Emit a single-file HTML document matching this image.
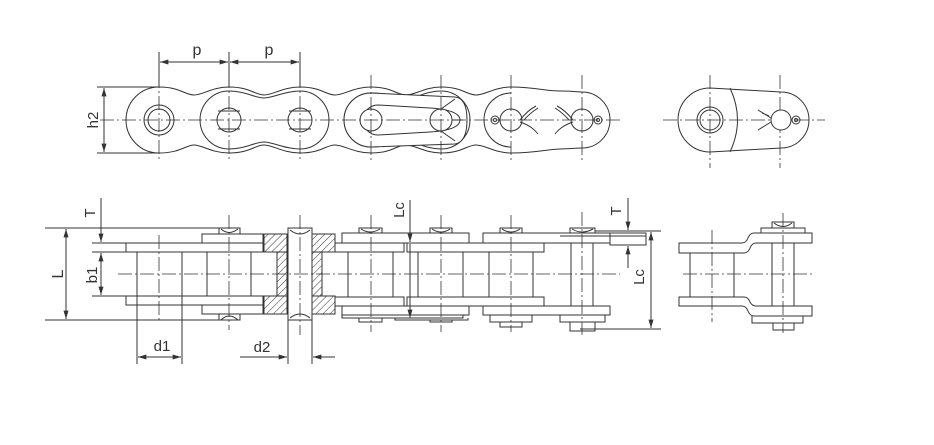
<!DOCTYPE html>
<html><head><meta charset="utf-8"><style>
html,body{margin:0;padding:0;background:#fff;}
svg{display:block;}
text{font-family:"Liberation Sans",sans-serif;fill:#333;}
</style></head><body>
<svg width="934" height="445" viewBox="0 0 934 445" xmlns="http://www.w3.org/2000/svg">
<defs>
<marker id="a" viewBox="0 0 10 6" refX="10" refY="3" markerWidth="9" markerHeight="5" orient="auto-start-reverse" markerUnits="userSpaceOnUse"><path d="M0,0 L10,3 L0,6 Z" fill="#333"/></marker>
<pattern id="h" width="5" height="5" patternUnits="userSpaceOnUse" patternTransform="rotate(45)"><rect width="5" height="5" fill="#fff"/><line x1="0" y1="0" x2="0" y2="5" stroke="#333" stroke-width="1"/></pattern>
</defs>
<g fill="none" stroke="#333" stroke-width="1">
<!-- ============ TOP VIEW ============ -->
<!-- continuous outer outline -->
<path fill="#fff" d="M126,120 A33,33 0 0 1 159,87
 C180,87 185,95 194,95 S212,87 229,87
 C250,87 255,95 264,95 S283,87 300,87
 C321,87 326,95 335,95 S354,87 371,87
 C392,87 397,95 406,95 S425,87 441,87
 C462,87 467,95 476,95 S495,87 511,87
 C535,87 545,91 560,91 S575,92 582,92
 A28,28 0 0 1 582,148
 C575,148 570,149 560,149 S535,153 511,153
 C495,153 485,145 476,145 S462,153 441,153
 C425,153 415,145 406,145 S392,153 371,153
 C354,153 344,145 335,145 S321,153 300,153
 C283,153 273,145 264,145 S250,153 229,153
 C212,153 202,145 194,145 S180,153 159,153
 A33,33 0 0 1 126,120 Z"/>
<!-- inner plate outlines -->
<path d="M229,91 C245,91 255,98 264,98 S285,91 300,91 A29,29 0 0 1 300,149 C285,149 273,142 264,142 S245,149 229,149 A29,29 0 0 1 229,91 Z"/>
<path d="M371,93 C390,93 397,99 406,99 S425,91 441,91 A29,29 0 0 1 441,149 C425,149 415,141 406,141 S390,147 371,147 A27,27 0 0 1 371,93 Z"/>
<path d="M511,93 A27,27 0 0 0 511,147"/>
<!-- offset plate -->
<path fill="#fff" d="M371,93 L455,97 Q467,98 467,120 Q467,142 455,144 L371,147 A27,27 0 0 1 371,93 Z"/>
<path d="M378,105 L430,108 Q460,110 460,120 Q460,130 430,132 L378,135 A15,15 0 0 1 378,105 Z"/>
<path d="M441,109 L455,99 M441,131 L455,141 M452,120 L463,120"/>
<!-- pins -->
<circle cx="159" cy="120" r="15"/><circle cx="159" cy="120" r="11"/>
<circle cx="229" cy="120" r="12" fill="#fff"/><path d="M218,111 H240 M218,129 H240"/>
<circle cx="300" cy="120" r="12" fill="#fff"/><path d="M289,111 H311 M289,129 H311"/>
<circle cx="371" cy="120" r="11" fill="#fff"/>
<circle cx="441" cy="120" r="11" fill="#fff"/>
<circle cx="511" cy="120" r="11" fill="#fff"/>
<circle cx="582" cy="120" r="11" fill="#fff"/>
<circle cx="495" cy="120" r="4"/><circle cx="495" cy="120" r="1.5"/>
<circle cx="598" cy="120" r="4"/><circle cx="598" cy="120" r="1.5"/>
<path d="M520,120 Q528,110 536,106 M520,122 Q532,126 538,134 M524,120 Q530,113 538,108"/>
<path d="M573,120 Q565,110 557,106 M573,122 Q561,126 555,134 M569,120 Q563,113 555,108"/>
<!-- centerlines -->
<g stroke-dasharray="14,3,2,3" stroke-width="0.8">
<line x1="100" y1="120" x2="622" y2="120"/>
<line x1="159" y1="52" x2="159" y2="160"/>
<line x1="229" y1="52" x2="229" y2="160"/>
<line x1="300" y1="52" x2="300" y2="160"/>
<line x1="371" y1="75" x2="371" y2="160"/>
<line x1="441" y1="75" x2="441" y2="160"/>
<line x1="511" y1="75" x2="511" y2="160"/>
<line x1="582" y1="75" x2="582" y2="160"/>
<line x1="663" y1="120" x2="825" y2="120"/>
<line x1="710" y1="75" x2="710" y2="168"/>
<line x1="780" y1="75" x2="780" y2="168"/>
</g>
<line x1="159" y1="52" x2="159" y2="87"/><line x1="229" y1="52" x2="229" y2="87"/><line x1="300" y1="52" x2="300" y2="87"/>
<line x1="160" y1="62" x2="228" y2="62" marker-start="url(#a)" marker-end="url(#a)"/>
<line x1="230" y1="62" x2="299" y2="62" marker-start="url(#a)" marker-end="url(#a)"/>
<line x1="97" y1="87" x2="159" y2="87"/><line x1="97" y1="153" x2="159" y2="153"/>
<line x1="104" y1="88" x2="104" y2="152" marker-start="url(#a)" marker-end="url(#a)"/>
<!-- right top view -->
<path d="M710,88 L781,92 A28,28 0 0 1 781,148 L710,152 A32,32 0 0 1 710,88 Z"/>
<path d="M730,88 Q745,120 730,152"/>
<circle cx="710" cy="120" r="13"/><circle cx="710" cy="120" r="10"/>
<circle cx="781" cy="120" r="10" fill="#fff"/>
<circle cx="796" cy="120" r="4"/><circle cx="796" cy="120" r="1.5"/>
<path d="M771,118 L758,110 M771,122 L758,130 M769,116 L762,113"/>

<!-- ============ BOTTOM VIEW ============ -->
<!-- dimension/extension lines -->
<line x1="45" y1="228" x2="232" y2="228"/>
<line x1="45" y1="320" x2="232" y2="320"/>
<line x1="92" y1="243" x2="126" y2="243"/><line x1="92" y1="252" x2="137" y2="252"/>
<line x1="92" y1="296" x2="137" y2="296"/>
<line x1="66" y1="229" x2="66" y2="319" marker-start="url(#a)" marker-end="url(#a)"/>
<line x1="101" y1="198" x2="101" y2="242" marker-end="url(#a)"/>
<line x1="101" y1="253" x2="101" y2="295" marker-start="url(#a)" marker-end="url(#a)"/>
<!-- inner plates -->
<rect x="126" y="243" width="137" height="9" fill="#fff"/>
<rect x="126" y="296" width="137" height="9" fill="#fff"/>
<rect x="335" y="243" width="69" height="9" fill="#fff"/>
<rect x="335" y="297" width="69" height="9" fill="#fff"/>
<rect x="407" y="243" width="137" height="9" fill="#fff"/>
<rect x="407" y="297" width="137" height="9" fill="#fff"/>
<!-- outer plates -->
<rect x="202" y="234" width="61" height="9" fill="#fff"/>
<rect x="202" y="305" width="61" height="9" fill="#fff"/>
<rect x="342" y="233" width="127" height="10" fill="#fff"/>
<rect x="342" y="306" width="127" height="9" fill="#fff"/>
<rect x="483" y="233" width="127" height="10" fill="#fff"/>
<rect x="483" y="306" width="127" height="9" fill="#fff"/>
<rect x="610" y="233" width="36" height="12" fill="#fff"/>
<line x1="560" y1="236" x2="646" y2="236"/>
<path d="M342,315 V318 H463 V315"/>
<path d="M395,318 V320 H468 V318"/>
<!-- rollers -->
<rect x="137" y="252" width="45" height="44"/>
<rect x="207" y="252" width="44" height="44"/>
<rect x="348" y="252" width="45" height="45"/>
<rect x="418" y="252" width="45" height="45"/>
<rect x="489" y="252" width="44" height="45"/>
<!-- pins of connecting link -->
<rect x="571" y="243" width="22" height="63" fill="#fff"/>
<!-- caps -->
<path d="M219,234 V228 H240 V234 M221,229 Q229,236 238,229"/>
<path d="M219,314 V320 H240 V314 M221,320 Q229,312 238,320"/>
<path d="M359,233 V228 H382 V233 M361,229 Q370,235 380,229"/>
<path d="M430,233 V228 H452 V233 M432,229 Q441,235 450,229"/>
<path d="M500,233 V228 H522 V233 M502,229 Q511,235 520,229"/>
<path d="M570,233 V228 H595 V233 M572,229 Q582,235 593,229"/>
<path d="M359,318 V322 H382 V318 M430,320 V322 H452 V320"/>
<path d="M490,315 V322 H532 V315 M500,322 V327 H522 V322"/>
<path d="M560,315 V322 H605 V315 M570,322 V331 H595 V322"/>
<!-- hatched section -->
<rect x="264" y="234" width="23" height="18" fill="url(#h)"/>
<rect x="264" y="296" width="23" height="18" fill="url(#h)"/>
<rect x="277" y="252" width="10" height="44" fill="url(#h)"/>
<rect x="312" y="234" width="23" height="18" fill="url(#h)"/>
<rect x="312" y="296" width="23" height="18" fill="url(#h)"/>
<rect x="312" y="252" width="10" height="44" fill="url(#h)"/>
<rect x="288" y="228" width="24" height="92" fill="#fff"/>
<path d="M290,230 Q300,238 310,230 M290,318 Q300,310 310,318"/>
<!-- Lc middle -->
<line x1="410" y1="200" x2="410" y2="242" marker-end="url(#a)"/>
<line x1="410" y1="244" x2="410" y2="318" marker-end="url(#a)"/>
<!-- right dims -->
<line x1="595" y1="231" x2="661" y2="231"/>
<line x1="612" y1="245" x2="646" y2="245"/>
<line x1="580" y1="329" x2="661" y2="329"/>
<line x1="628" y1="198" x2="628" y2="230" marker-end="url(#a)"/>
<line x1="628" y1="268" x2="628" y2="246" marker-end="url(#a)"/>
<line x1="651" y1="232" x2="651" y2="328" marker-start="url(#a)" marker-end="url(#a)"/>
<!-- d1 d2 -->
<line x1="137" y1="296" x2="137" y2="364"/><line x1="182" y1="296" x2="182" y2="364"/>
<line x1="138" y1="357" x2="181" y2="357" marker-start="url(#a)" marker-end="url(#a)"/>
<line x1="288" y1="320" x2="288" y2="364"/><line x1="312" y1="320" x2="312" y2="364"/>
<line x1="240" y1="357" x2="287" y2="357" marker-end="url(#a)"/>
<line x1="335" y1="357" x2="313" y2="357" marker-end="url(#a)"/>
<!-- right bottom view -->
<path fill="#fff" d="M679,243 H742 Q746,243 748,238 Q750,233 754,233 H812 V243 H756 Q752,243 750,248 Q748,253 744,253 H679 Z"/>
<path fill="#fff" d="M679,297 H744 Q748,297 750,302 Q752,306 756,306 H812 V316 H754 Q750,316 748,311 Q746,306 742,306 H679 Z"/>
<rect x="690" y="253" width="44" height="44"/>
<rect x="772" y="243" width="22" height="63"/>
<path d="M761,233 V228 H805 V233 M772,228 V222 H794 V228 M774,223 Q783,230 792,223"/>
<path d="M752,316 V323 H803 V316 M773,323 V330 H794 V323"/>
<g stroke-dasharray="14,3,2,3" stroke-width="0.8">
<line x1="118" y1="274" x2="620" y2="274"/>
<line x1="159" y1="235" x2="159" y2="320"/>
<line x1="229" y1="215" x2="229" y2="330"/>
<line x1="300" y1="215" x2="300" y2="335"/>
<line x1="371" y1="215" x2="371" y2="332"/>
<line x1="441" y1="215" x2="441" y2="332"/>
<line x1="511" y1="215" x2="511" y2="332"/>
<line x1="582" y1="212" x2="582" y2="335"/>
<line x1="683" y1="274" x2="813" y2="274"/>
<line x1="712" y1="230" x2="712" y2="322"/>
<line x1="783" y1="213" x2="783" y2="333"/>
</g>
</g>
<!-- labels -->
<text x="197" y="55" font-size="16" text-anchor="middle">p</text>
<text x="269" y="55" font-size="16" text-anchor="middle">p</text>
<text transform="translate(98,120) rotate(-90)" font-size="15" text-anchor="middle">h2</text>
<text transform="translate(95,213) rotate(-90)" font-size="15" text-anchor="middle">T</text>
<text transform="translate(63,274) rotate(-90)" font-size="16" text-anchor="middle">L</text>
<text transform="translate(97,275) rotate(-90)" font-size="15" text-anchor="middle">b1</text>
<text x="162" y="351" font-size="15" text-anchor="middle">d1</text>
<text x="262" y="352" font-size="15" text-anchor="middle">d2</text>
<text transform="translate(404,210) rotate(-90)" font-size="15" text-anchor="middle">Lc</text>
<text transform="translate(621,211) rotate(-90)" font-size="15" text-anchor="middle">T</text>
<text transform="translate(644,277) rotate(-90)" font-size="15" text-anchor="middle">Lc</text>
</svg>
</body></html>
